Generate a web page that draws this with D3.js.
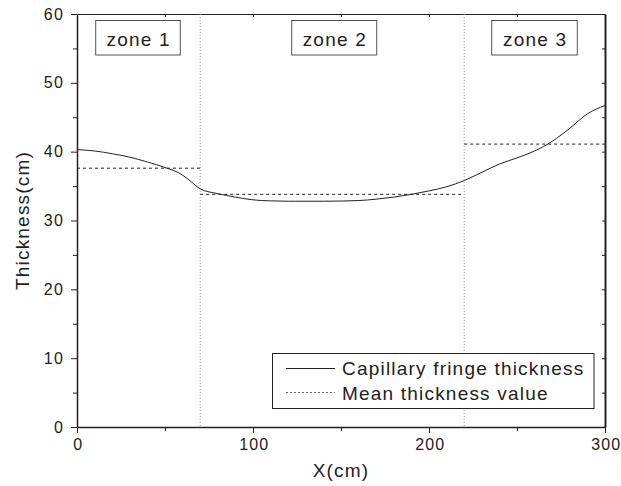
<!DOCTYPE html>
<html lang="en">
<head>
<meta charset="utf-8">
<title>Capillary fringe thickness</title>
<script src="https://cdn.jsdelivr.net/npm/d3@7"></script>
<style>
  body { margin: 0; background: #fff; }
  svg text { font-family: "Liberation Sans", Arial, sans-serif; fill: #222; letter-spacing: 1.2px; }
  .axis path, .axis line { stroke: #222; }
</style>
</head>
<body>
<script>
// curve
var xs = [0, 10, 20, 30, 40, 50, 60, 65, 70, 80, 90, 100, 110, 120, 140, 160, 170, 180, 190, 200, 210, 220, 230, 240, 250, 260, 270, 280, 290, 300]
var thickness = [40.3, 40.1, 39.7, 39.2, 38.5, 37.7, 36.6, 35.6, 34.6, 33.9, 33.4, 33.0, 32.85, 32.8, 32.8, 32.9, 33.1, 33.4, 33.8, 34.3, 34.9, 35.8, 37.0, 38.2, 39.1, 40.1, 41.5, 43.4, 45.5, 46.7]

var zoneNames = ["zone 1", "zone 2", "zone 3"]
var zoneStart = [0, 70, 220]
var zoneEnd = [70, 220, 300]
var zoneMean = [37.6, 33.8, 41.1]

var xTicks = [0, 100, 200, 300]
var yTicks = [0, 10, 20, 30, 40, 50, 60]

var w = 621, h = 486
var m = {left: 77, right: 16, top: 14, bottom: 59}

var svg = d3.select("body").append("svg")
  .attr("width", w).attr("height", h)

var x = d3.scaleLinear().domain([0, 300]).range([m.left, w - m.right])
var y = d3.scaleLinear().domain([0, 60]).range([h - m.bottom, m.top])

// axes: bottom and left with labels, top and right mirror ticks
svg.append("g").attr("class", "axis")
  .attr("transform", "translate(0," + y(0) + ")")
  .call(d3.axisBottom(x).tickValues(xTicks).tickSize(6).tickSizeOuter(0).tickPadding(5))
  .call(g => g.selectAll("text").attr("font-size", 16).attr("dy", "0.75em").attr("dx", "0.05em"))
  .call(g => g.select(".domain").attr("stroke-width", 1.5))
svg.append("g").attr("class", "axis")
  .attr("transform", "translate(0," + y(0) + ")")
  .call(d3.axisBottom(x).tickValues([50, 150, 250]).tickSize(4).tickFormat(""))
  .call(g => g.select(".domain").remove())

svg.append("g").attr("class", "axis")
  .attr("transform", "translate(" + x(0) + ",0)")
  .call(d3.axisLeft(y).tickValues(yTicks).tickSize(6).tickSizeOuter(0).tickPadding(7))
  .call(g => g.selectAll("text").attr("font-size", 16))
  .call(g => g.select(".domain").attr("stroke-width", 1.5))
svg.append("g").attr("class", "axis")
  .attr("transform", "translate(" + x(0) + ",0)")
  .call(d3.axisLeft(y).tickValues([5, 15, 25, 35, 45, 55]).tickSize(4).tickFormat(""))
  .call(g => g.select(".domain").remove())

svg.append("g").attr("class", "axis")
  .attr("transform", "translate(0," + y(60) + ")")
  .call(d3.axisBottom(x).tickValues([50, 100, 150, 200, 250]).tickSize(3).tickSizeOuter(0).tickFormat(""))
svg.append("g").attr("class", "axis")
  .attr("transform", "translate(" + x(300) + ",0)")
  .call(d3.axisLeft(y).tickValues([5, 10, 15, 20, 25, 30, 35, 40, 45, 50, 55]).tickSize(3).tickSizeOuter(0).tickFormat(""))
  .call(g => g.select(".domain").attr("stroke-width", 2))

// zone dividers
svg.selectAll(".divider")
  .data(zoneStart.slice(1))
  .enter().append("line")
  .attr("x1", d => x(d)).attr("x2", d => x(d))
  .attr("y1", y(60)).attr("y2", y(0))
  .attr("stroke", "#999").attr("stroke-width", 1)
  .attr("stroke-dasharray", "1,2")

// mean lines
svg.selectAll(".mean")
  .data(zoneMean)
  .enter().append("line")
  .attr("x1", (d, i) => x(zoneStart[i])).attr("x2", (d, i) => x(zoneEnd[i]))
  .attr("y1", d => y(d)).attr("y2", d => y(d))
  .attr("stroke", "#222").attr("stroke-width", 1)
  .attr("stroke-dasharray", "3,3")

// curve
var line = d3.line()
  .x((d, i) => x(xs[i]))
  .y(d => y(d))
  .curve(d3.curveMonotoneX)
svg.append("path")
  .attr("d", line(thickness))
  .attr("fill", "none").attr("stroke", "#222").attr("stroke-width", 1)

// zone labels
var boxes = [[95.7, 180.3], [291.7, 376.7], [491.7, 577.3]]
zoneNames.forEach(function(name, i) {
  svg.append("rect")
    .attr("x", boxes[i][0]).attr("y", 20.5)
    .attr("width", boxes[i][1] - boxes[i][0]).attr("height", 34.5)
    .attr("fill", "#fff").attr("stroke", "#555").attr("stroke-width", 1)
  svg.append("text")
    .attr("x", (boxes[i][0] + boxes[i][1]) / 2 + 0.6).attr("y", 45.5)
    .attr("text-anchor", "middle").attr("font-size", 19)
    .text(name)
})

// legend
svg.append("rect")
  .attr("x", 272.5).attr("y", 353.5).attr("width", 321.5).attr("height", 55)
  .attr("fill", "#fff").attr("stroke", "#222").attr("stroke-width", 1)
svg.append("line")
  .attr("x1", 286).attr("x2", 335).attr("y1", 368.5).attr("y2", 368.5)
  .attr("stroke", "#222")
svg.append("line")
  .attr("x1", 286).attr("x2", 335).attr("y1", 392.5).attr("y2", 392.5)
  .attr("stroke", "#666").attr("stroke-dasharray", "2,2")
svg.append("text").attr("x", 342).attr("y", 375).attr("font-size", 19)
  .text("Capillary fringe thickness")
svg.append("text").attr("x", 342).attr("y", 400).attr("font-size", 19)
  .text("Mean thickness value")

// axis titles
svg.append("text")
  .attr("x", x(150)).attr("y", 477)
  .attr("text-anchor", "middle").attr("font-size", 19)
  .text("X(cm)")
svg.append("text")
  .attr("transform", "translate(29," + y(30) + ") rotate(-90)")
  .attr("text-anchor", "middle").attr("font-size", 19)
  .text("Thickness(cm)")
</script>
</body>
</html>
